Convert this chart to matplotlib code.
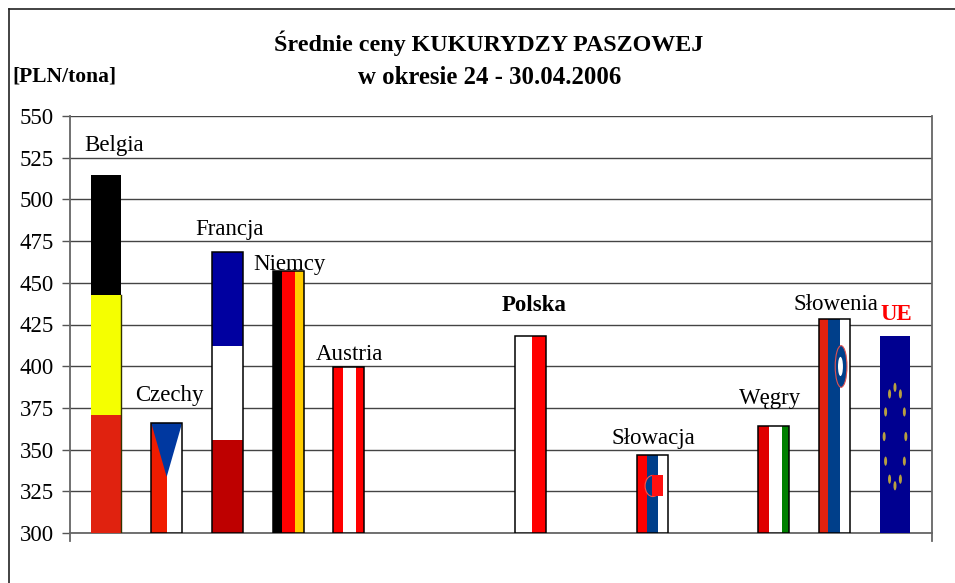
import numpy as np
import matplotlib
matplotlib.use('Agg')
import matplotlib.pyplot as plt
from matplotlib.lines import Line2D
from matplotlib.patches import Ellipse, Polygon, Rectangle

plt.rcParams['font.family'] = ['Liberation Serif', 'DejaVu Serif']

# empty names are the unused slots on the category axis
countries = ['Belgia', 'Czechy', 'Francja', 'Niemcy', 'Austria', '', '', 'Polska', '',
             'Słowacja', '', 'Węgry', 'Słowenia', 'UE']
prices = [514.5, 366, 468.5, 457, 399.5, None, None, 418, None,
          347, None, 364, 428, 418]
y_ticks = [300, 325, 350, 375, 400, 425, 450, 475, 500, 525, 550]

BAR_W = 0.51

# label offset from the top centre of the bar, in pixels
label_offsets = {
    'Belgia': (8, 30), 'Czechy': (3, 27), 'Francja': (2, 22), 'Niemcy': (1, 7),
    'Austria': (1, 13), 'Polska': (3, 31), 'Słowacja': (1, 16), 'Węgry': (-3, 28),
    'Słowenia': (2, 15), 'UE': (1, 22),
}

# flag stripes: (start, end, colour) as fractions of the bar
vertical_flags = {
    'Czechy': [(0, 0.5, '#F01C00'), (0.5, 1, 'white')],
    'Niemcy': [(0, 0.3, 'black'), (0.3, 0.74, '#FF0000'), (0.74, 1, '#FFCC00')],
    'Austria': [(0, 0.33, '#FF0000'), (0.33, 0.73, 'white'), (0.73, 1, '#FF0000')],
    'Polska': [(0, 0.53, 'white'), (0.53, 1, '#FF0000')],
    'Słowacja': [(0, 0.33, '#FF0000'), (0.33, 0.68, '#003F8A'), (0.68, 1, 'white')],
    'Węgry': [(0, 0.36, '#E00000'), (0.36, 0.76, 'white'), (0.76, 1, '#008000')],
    'Słowenia': [(0, 0.31, '#E0220F'), (0.31, 0.68, '#003F8A'), (0.68, 1, 'white')],
    'UE': [(0, 1, '#000090')],
}
horizontal_flags = {
    'Belgia': [(0, 0.33, '#E0220F'), (0.33, 0.665, '#F5FF00'), (0.665, 1, 'black')],
    'Francja': [(0, 0.33, '#BE0000'), (0.33, 0.665, 'white'), (0.665, 1, '#0000A0')],
}
no_outline = ['Belgia', 'UE']

fig = plt.figure(figsize=(9.55, 5.83), dpi=100)
ax = fig.add_axes([70 / 955, 1 - 533 / 583, 862 / 955, 417 / 583])
ax.set_xlim(-0.593, 13.61)
ax.set_ylim(300, 550)
ax.set_yticks(y_ticks)
ax.set_xticks([])
ax.tick_params(axis='y', length=5.8, width=1, color='#555555', labelsize=16.5, pad=6)
ax.grid(axis='y', color='#444444', lw=1)
ax.set_axisbelow(True)
ax.spines['top'].set_visible(False)
for side in ['left', 'right', 'bottom']:
    ax.spines[side].set_color('#666666')
    ax.spines[side].set_linewidth(1.3)

# little ticks below both ends of the x axis
for xpos in [0, 1]:
    ax.plot([xpos, xpos], [0, -0.018], transform=ax.transAxes, color='#666666',
            lw=1.3, clip_on=False)

for i, (name, val) in enumerate(zip(countries, prices)):
    if val is None:
        continue
    left = i - BAR_W / 2
    height = val - 300

    if name in vertical_flags:
        for a, b, col in vertical_flags[name]:
            ax.bar(left + a * BAR_W, height, width=(b - a) * BAR_W, bottom=300, align='edge',
                   color=col, zorder=3)
    else:
        for a, b, col in horizontal_flags[name]:
            ax.bar(left, (b - a) * height, width=BAR_W, bottom=300 + a * height, align='edge',
                   color=col, zorder=3)

    if name == 'Czechy':
        ax.add_patch(Polygon([(left, val), (left + BAR_W, val), (i, 300 + 0.51 * height)],
                             facecolor='#0038A0', edgecolor='none', zorder=4))
    if name == 'Słowacja':
        # blue shield ring with the red square over it
        ax.add_patch(Ellipse((i + 0.02 * BAR_W, 300 + 0.6 * height), 0.5 * BAR_W, 0.27 * height,
                             facecolor='#003F8A', edgecolor='#FF5040', lw=0.8, zorder=4))
        ax.add_patch(Rectangle((i - 0.02 * BAR_W, 300 + 0.47 * height), 0.36 * BAR_W, 0.27 * height,
                               facecolor='#FF1010', edgecolor='none', zorder=5))
    if name == 'Słowenia':
        ax.add_patch(Ellipse((i + 0.22 * BAR_W, 300 + 0.78 * height), 0.38 * BAR_W, 0.195 * height,
                             facecolor='#003F8A', edgecolor='#E05050', lw=0.8, zorder=4))
        ax.add_patch(Ellipse((i + 0.2 * BAR_W, 300 + 0.78 * height), 0.16 * BAR_W, 0.09 * height,
                             facecolor='white', edgecolor='none', zorder=5))
    if name == 'UE':
        for k in range(12):
            angle = np.pi / 2 + k * np.pi / 6
            ax.add_patch(Ellipse((i + 0.35 * BAR_W * np.cos(angle),
                                  300 + (0.49 + 0.25 * np.sin(angle)) * height),
                                 0.05, 5.5, facecolor='#B8A040', edgecolor='none', zorder=4))

    if name in no_outline:
        if name == 'Belgia':
            ax.plot([i + BAR_W / 2 - 0.01] * 2, [300, 300 + 0.665 * height], color='#333300',
                    lw=1, zorder=5)
    else:
        ax.bar(left, height, width=BAR_W, bottom=300, align='edge', facecolor='none',
               edgecolor='black', lw=1.1, zorder=5)

    dx, dy = label_offsets[name]
    extra = {}
    if name == 'Polska':
        extra = {'fontweight': 'bold'}
    if name == 'UE':
        extra = {'fontweight': 'bold', 'color': '#FF0000'}
    ax.annotate(name, (i, val), xytext=(dx, dy), textcoords='offset pixels', ha='center',
                va='center', fontsize=16.5, annotation_clip=False, zorder=6, **extra)

fig.text(489 / 955, 1 - 43 / 583, 'Średnie ceny KUKURYDZY PASZOWEJ', ha='center', va='center',
         fontsize=17.3, fontweight='bold')
fig.text(490 / 955, 1 - 77 / 583, 'w okresie 24 - 30.04.2006', ha='center', va='center',
         fontsize=17.8, fontweight='bold')
fig.text(12 / 955, 1 - 77 / 583, '[PLN/tona]', ha='left', va='center', fontsize=15.5,
         fontweight='bold')

# outer chart frame, cut off by the picture on the right and at the bottom
fig.add_artist(Line2D([9 / 955, 9 / 955], [0, 1 - 9 / 583], color='#222222', lw=1.2))
fig.add_artist(Line2D([9 / 955, 1], [1 - 9 / 583, 1 - 9 / 583], color='#222222', lw=1.2))

fig.savefig('out.png', dpi=100)
